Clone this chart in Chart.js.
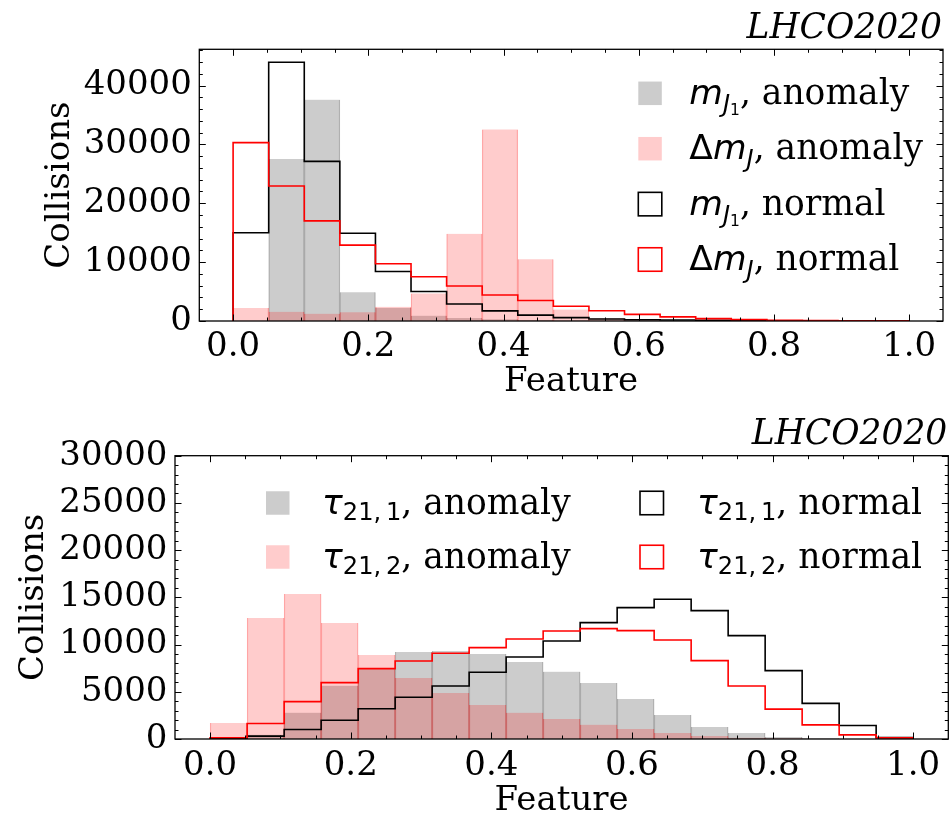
<!DOCTYPE html>
<html>
<head>
<meta charset="utf-8">
<script src="https://cdn.jsdelivr.net/npm/chart.js@4.4.1/dist/chart.umd.min.js"></script>
<style>
  html, body { margin: 0; padding: 0; background: #fff; overflow: hidden; }
  #wrap { position: relative; width: 952px; height: 815px; background: #fff; }
  canvas { position: absolute; left: 0; }
</style>
</head>
<body>
<div id="wrap">
  <canvas id="top" width="952" height="400" style="top:0px"></canvas>
  <canvas id="bottom" width="952" height="410" style="top:405px"></canvas>
</div>
<script>
// ---- histogram data: 19 equal bins on [0, 1] ----
const BIN_COUNT = 19;

// upper panel: jet masses
const mJ1Anomaly   = [0, 27500, 37600, 4880, 2200, 900, 500, 300, 150, 80, 40, 20, 10, 5, 0, 0, 0, 0, 0];
const dmJAnomaly   = [2200, 1550, 1250, 1500, 2400, 4690, 14800, 32540, 10500, 1950, 450, 150, 60, 30, 10, 0, 0, 0, 0];
const mJ1Normal    = [15000, 43960, 27120, 14900, 8420, 5000, 2880, 1720, 1000, 580, 340, 220, 160, 110, 70, 45, 30, 18, 10];
const dmJNormal    = [30300, 22940, 17000, 12880, 9720, 7515, 5950, 4407, 3470, 2500, 1750, 1130, 700, 400, 230, 120, 70, 40, 25];

// lower panel: n-subjettiness ratios
const tau211Anomaly = [0, 450, 2790, 5650, 7490, 9215, 9320, 9000, 8155, 7130, 5930, 4236, 2542, 1271, 636, 212, 70, 0, 0];
const tau212Anomaly = [1690, 12815, 15360, 12290, 8900, 6460, 4870, 3600, 2790, 2120, 1518, 1060, 636, 318, 141, 70, 20, 0, 0];
const tau211Normal  = [40, 300, 1000, 1990, 3200, 4414, 5614, 7062, 8686, 10380, 12320, 13910, 14793, 13590, 10943, 7237, 3777, 1430, 150];
const tau212Normal  = [140, 1640, 3955, 5967, 7450, 8262, 9075, 9675, 10593, 11440, 11690, 11475, 10490, 8300, 5615, 3160, 1500, 440, 120];

// axis ticks
const xTicks      = [0.0, 0.2, 0.4, 0.6, 0.8, 1.0];
const yTicksTop   = [0, 10000, 20000, 30000, 40000];
const yTicksBot   = [0, 5000, 10000, 15000, 20000, 25000, 30000];
const panelTitle  = 'LHCO2020';
const xTitle      = 'Feature';
const yTitle      = 'Collisions';

// ---- helpers ----
const SERIF = '"DejaVu Serif"';
const SANS  = '"DejaVu Sans"';
const FS = 34;      // axis text
const LFS = 34.5;   // legend and panel title

const edges = Array.from({length: BIN_COUNT + 1}, (_, i) => i / BIN_COUNT);
const centers = edges.slice(0, -1).map((e, i) => (e + edges[i + 1]) / 2);

function barData(vals) { return vals.map((v, i) => ({x: centers[i], y: v})); }
function stepData(vals) {
  const pts = [{x: edges[0], y: 0}];
  vals.forEach((v, i) => pts.push({x: edges[i], y: v}));
  pts.push({x: edges[BIN_COUNT], y: vals[BIN_COUNT - 1]});
  pts.push({x: edges[BIN_COUNT], y: 0});
  return pts;
}

const GRAY_FILL = 'rgba(128,128,128,0.4)';
const RED_FILL  = 'rgba(255,0,0,0.2)';
const GRAY_EDGE = 'rgba(128,128,128,0.5)';
const RED_EDGE  = 'rgba(255,0,0,0.27)';

function fillSet(label, vals, color, edge, order) {
  return { type: 'bar', label, data: barData(vals), backgroundColor: color,
           borderColor: edge, borderWidth: {left: 0.6, right: 0.6, top: 0, bottom: 0},
           grouped: false, barPercentage: 1, categoryPercentage: 1, order };
}
function stepSet(label, vals, color) {
  return { type: 'line', label, data: stepData(vals), borderColor: color, borderWidth: 1.6,
           pointRadius: 0, fill: false, stepped: true, tension: 0, order: 0 };
}

// mathtext-like pieces for legend labels
const mJ1 = [{t: 'm', f: SANS, it: 1}, {t: 'J', f: SANS, it: 1, s: 0.7, dy: 0.24}, {t: '1', f: SANS, s: 0.45, dy: 0.33}];
const dmJ = [{t: 'Δ', f: SANS}, {t: 'm', f: SANS, it: 1}, {t: 'J', f: SANS, it: 1, s: 0.7, dy: 0.24}];
const tau1 = [{t: 'τ', f: SANS, it: 1}, {t: '21,\u20091', f: SANS, s: 0.7, dy: 0.2}];
const tau2 = [{t: 'τ', f: SANS, it: 1}, {t: '21,\u20092', f: SANS, s: 0.7, dy: 0.2}];
const tail = (s) => [{t: ', ' + s, f: SERIF}];

function drawRich(ctx, x, y, parts, size) {
  let cx = x;
  for (const p of parts) {
    const fs = size * (p.s || 1);
    ctx.font = (p.it ? 'italic ' : '') + fs + 'px ' + p.f;
    ctx.fillText(p.t, cx, y + (p.dy || 0) * size);
    cx += ctx.measureText(p.t).width;
  }
}

// inward ticks, frame, panel title and legend
const decorations = {
  id: 'decorations',
  afterDraw(chart, args, o) {
    const {ctx, chartArea: a, scales: {x, y}} = chart;
    ctx.save();
    ctx.strokeStyle = '#000';
    ctx.lineWidth = 1;
    const MAJ = 6.5, MIN = 3.5;
    const xs = [];
    for (let k = 0; k <= 20; k++) xs.push({v: k * 0.05, major: k % 4 === 0});
    ctx.beginPath();
    for (const t of xs) {
      const p = Math.round(x.getPixelForValue(t.v)) + 0.5;
      const L = t.major ? MAJ : MIN;
      ctx.moveTo(p, a.bottom); ctx.lineTo(p, a.bottom - L);
      ctx.moveTo(p, a.top); ctx.lineTo(p, a.top + L);
    }
    for (let v = 0; v <= y.max; v += o.yMinor) {
      const p = Math.round(y.getPixelForValue(v)) + 0.5;
      const L = (v % o.yMajor === 0) ? MAJ : MIN;
      ctx.moveTo(a.left, p); ctx.lineTo(a.left + L, p);
      ctx.moveTo(a.right, p); ctx.lineTo(a.right - L, p);
    }
    ctx.stroke();
    ctx.lineWidth = 1.3;
    ctx.strokeRect(a.left, a.top, a.right - a.left, a.bottom - a.top);

    // panel title
    ctx.fillStyle = '#000';
    ctx.font = 'italic ' + LFS + 'px ' + SERIF;
    ctx.textAlign = 'right';
    ctx.textBaseline = 'alphabetic';
    ctx.fillText(panelTitle, a.right - 1, a.top - 11.5);

    // legend
    ctx.textAlign = 'left';
    for (const it of o.legend) {
      const bx = a.left + it.bx, cy = a.top + it.cy;
      const bw = 23.5, bh = 23.5;
      if (it.kind === 'fill') {
        ctx.fillStyle = it.color;
        ctx.fillRect(bx, cy - bh / 2, bw, bh);
      } else {
        ctx.strokeStyle = it.color;
        ctx.lineWidth = 1.6;
        ctx.strokeRect(bx, cy - bh / 2, bw, bh);
      }
      ctx.fillStyle = '#000';
      drawRich(ctx, a.left + it.tx, cy + 10.5, it.parts, LFS);
    }
    ctx.restore();
  }
};

Chart.defaults.color = '#000';
Chart.defaults.font.family = SERIF;
Chart.defaults.font.size = FS;

function makeChart(id, cfg) {
  return new Chart(document.getElementById(id), {
    type: 'bar',
    data: { datasets: cfg.datasets },
    options: {
      responsive: false,
      animation: false,
      layout: { padding: cfg.padding },
      plugins: { legend: { display: false }, tooltip: { enabled: false }, decorations: cfg.deco },
      scales: {
        x: {
          type: 'linear', min: -0.05, max: 1.05, offset: false,
          grid: { display: false, drawTicks: false }, border: { display: false },
          afterFit: (s) => { s.height = cfg.xHeight; },
          afterBuildTicks: (s) => { s.ticks = xTicks.map(v => ({value: v})); },
          ticks: { padding: cfg.xTickPad, maxRotation: 0, autoSkip: false,
                   callback: (v) => Number(v).toFixed(1), font: { size: FS } },
          title: { display: true, text: xTitle, font: { size: FS, lineHeight: 0.8 },
                   padding: { top: 0, bottom: cfg.xTitlePad } }
        },
        y: {
          type: 'linear', min: 0, max: cfg.yMax,
          grid: { display: false, drawTicks: false }, border: { display: false },
          afterFit: (s) => { s.width = cfg.yWidth; },
          afterBuildTicks: (s) => { s.ticks = cfg.yTicks.map(v => ({value: v})); },
          ticks: { padding: 7.5, autoSkip: false, callback: (v) => String(v), font: { size: FS } },
          title: { display: true, text: yTitle, font: { size: FS, lineHeight: 1.2 },
                   padding: { top: cfg.yTitlePad, bottom: 0 } }
        }
      }
    },
    plugins: [decorations]
  });
}

// upper panel
makeChart('top', {
  datasets: [
    stepSet('Δm_J, normal', dmJNormal, '#ff0000'),
    stepSet('m_J1, normal', mJ1Normal, '#000000'),
    fillSet('Δm_J, anomaly', dmJAnomaly, RED_FILL, RED_EDGE, 1),
    fillSet('m_J1, anomaly', mJ1Anomaly, GRAY_FILL, GRAY_EDGE, 2)
  ],
  padding: { left: 0, right: 9, top: 49.3, bottom: 0 },
  xHeight: 79, yWidth: 199.3, yMax: 46150, yTicks: yTicksTop,
  xTickPad: 6, xTitlePad: 4, yTitlePad: 39.6,
  deco: {
    yMinor: 2000, yMajor: 10000,
    legend: [
      { kind: 'fill',   color: GRAY_FILL, bx: 439, tx: 490, cy: 44,    parts: mJ1.concat(tail('anomaly')) },
      { kind: 'fill',   color: RED_FILL,  bx: 439, tx: 490, cy: 99.4,  parts: dmJ.concat(tail('anomaly')) },
      { kind: 'stroke', color: '#000',    bx: 439, tx: 490, cy: 154.8, parts: mJ1.concat(tail('normal')) },
      { kind: 'stroke', color: '#ff0000', bx: 439, tx: 490, cy: 210.2, parts: dmJ.concat(tail('normal')) }
    ]
  }
});

// lower panel
makeChart('bottom', {
  datasets: [
    stepSet('τ21,2, normal', tau212Normal, '#ff0000'),
    stepSet('τ21,1, normal', tau211Normal, '#000000'),
    fillSet('τ21,2, anomaly', tau212Anomaly, RED_FILL, RED_EDGE, 1),
    fillSet('τ21,1, anomaly', tau211Anomaly, GRAY_FILL, GRAY_EDGE, 2)
  ],
  padding: { left: 0, right: 3.7, top: 50.7, bottom: 0 },
  xHeight: 76, yWidth: 175, yMax: 30000, yTicks: yTicksBot,
  xTickPad: 7, xTitlePad: 0, yTitlePad: 13.6,
  deco: {
    yMinor: 1000, yMajor: 5000,
    legend: [
      { kind: 'fill',   color: GRAY_FILL, bx: 91,  tx: 147, cy: 47.3,  parts: tau1.concat(tail('anomaly')) },
      { kind: 'fill',   color: RED_FILL,  bx: 91,  tx: 147, cy: 101.3, parts: tau2.concat(tail('anomaly')) },
      { kind: 'stroke', color: '#000',    bx: 465, tx: 522, cy: 47.3,  parts: tau1.concat(tail('normal')) },
      { kind: 'stroke', color: '#ff0000', bx: 465, tx: 522, cy: 101.3, parts: tau2.concat(tail('normal')) }
    ]
  }
});
</script>
</body>
</html>
